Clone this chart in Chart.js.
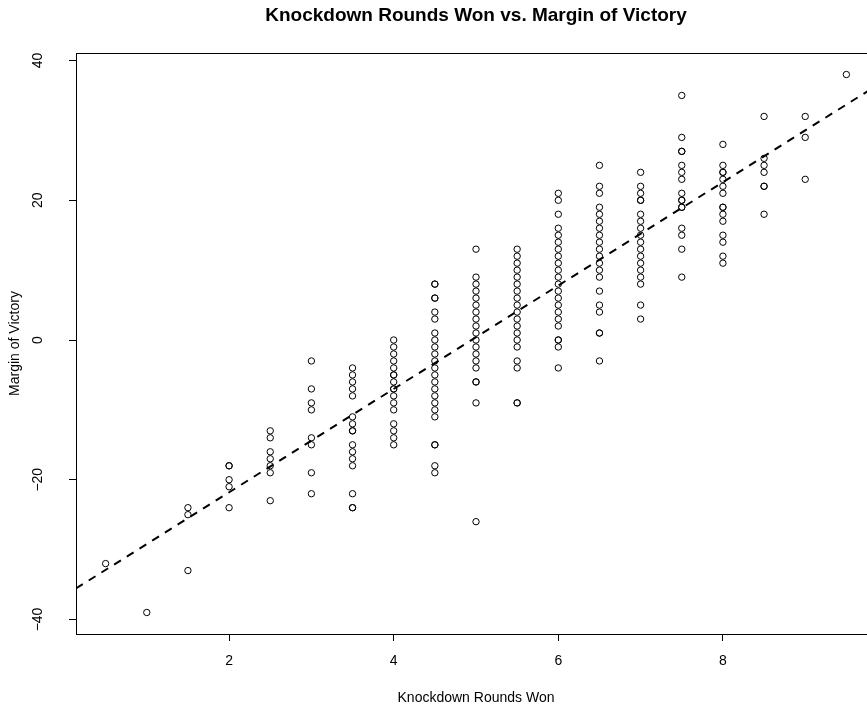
<!DOCTYPE html>
<html>
<head>
<meta charset="utf-8">
<title>Knockdown Rounds Won vs. Margin of Victory</title>
<script src="https://cdn.jsdelivr.net/npm/chart.js@4.4.1/dist/chart.umd.min.js"></script>
<style>
    html, body { margin: 0; padding: 0; background: #fff; overflow: hidden; }
</style>
</head>
<body>
<canvas id="grafico" width="952" height="713"></canvas>
<script>
// Rounds won by knockdown (x) and the margins of victory seen at each one (y)
const rodadas = [0.5, 1, 1.5, 2, 2.5, 3, 3.5, 4, 4.5, 5, 5.5, 6, 6.5, 7, 7.5, 8, 8.5, 9, 9.5];
const margens = [
    [-32],
    [-39],
    [-24, -25, -33],
    [-18, -18, -20, -21, -24],
    [-13, -14, -16, -17, -18, -19, -23],
    [-3, -7, -9, -10, -14, -15, -19, -22],
    [-4, -5, -6, -7, -8, -11, -12, -13, -13, -15, -16, -17, -18, -22, -24, -24],
    [0, -1, -2, -3, -4, -5, -5, -6, -7, -7, -8, -9, -10, -12, -13, -14, -15],
    [8, 8, 6, 6, 4, 3, 1, 0, -1, -2, -3, -4, -5, -6, -7, -8, -9, -10, -11, -15, -15, -18, -19],
    [13, 9, 8, 7, 6, 5, 4, 3, 2, 1, 0, -1, -2, -3, -4, -6, -6, -9, -26],
    [13, 12, 11, 10, 9, 8, 7, 6, 5, 4, 3, 2, 1, 0, -1, -3, -4, -9, -9],
    [21, 20, 18, 16, 15, 14, 13, 12, 11, 10, 9, 8, 7, 6, 5, 4, 3, 2, 0, 0, -1, -4],
    [25, 22, 21, 19, 18, 17, 16, 15, 14, 13, 12, 11, 10, 9, 7, 5, 4, 1, 1, -3],
    [24, 22, 21, 20, 20, 18, 17, 16, 15, 14, 13, 12, 11, 10, 9, 8, 5, 3],
    [35, 29, 27, 27, 25, 24, 23, 21, 20, 20, 19, 19, 16, 15, 13, 9],
    [28, 25, 24, 24, 23, 22, 21, 19, 19, 18, 17, 15, 14, 12, 11],
    [32, 26, 25, 24, 22, 22, 18],
    [32, 29, 23],
    [38]
];

// fitted line
const intercepto = -36.6;
const inclinacao = 7.40;

// axis ranges and ticks
const limitesX = [0.14, 9.86];
const limitesY = [-42.08, 41.08];
const ticksX = [2, 4, 6, 8];
const ticksY = [-40, -20, 0, 20, 40];

const titulo = 'Knockdown Rounds Won vs. Margin of Victory';
const tituloX = 'Knockdown Rounds Won';
const tituloY = 'Margin of Victory';

const fonte = '"Liberation Sans", Arial, Helvetica, sans-serif';
Chart.defaults.font.family = fonte;
Chart.defaults.color = '#000';

const pontos = rodadas.flatMap((r, i) => margens[i].map(m => ({ x: r, y: m })));
const linha = limitesX.map(x => ({ x: x, y: intercepto + inclinacao * x }));

// box around the plot + rotated y tick labels (R style)
const moldura = {
    id: 'moldura',
    afterDraw(chart) {
        const { ctx, chartArea: a } = chart;
        ctx.save();
        ctx.strokeStyle = '#000';
        ctx.lineWidth = 1;
        ctx.strokeRect(Math.round(a.left) + 0.5, Math.round(a.top) + 0.5,
            Math.round(a.right - a.left), Math.round(a.bottom - a.top));

        const sy = chart.scales.y;
        ctx.fillStyle = '#000';
        ctx.font = '14px ' + fonte;
        ctx.textAlign = 'center';
        ctx.textBaseline = 'middle';
        sy.ticks.forEach(t => {
            const py = sy.getPixelForValue(t.value);
            ctx.save();
            ctx.translate(sy.right - 38, py);
            ctx.rotate(-Math.PI / 2);
            ctx.fillText(String(t.value).replace('-', '\u2212'), 0, 0);
            ctx.restore();
        });
        ctx.restore();
    }
};

const ctx = document.getElementById('grafico');

new Chart(ctx.getContext('2d'), {
    type: 'scatter',
    data: {
        datasets: [
            {
                data: pontos,
                order: 1,
                pointStyle: 'circle',
                radius: 3.2,
                borderColor: '#000',
                borderWidth: 1,
                backgroundColor: 'rgba(0,0,0,0)'
            },
            {
                type: 'line',
                data: linha,
                order: 0,
                borderColor: '#000',
                borderWidth: 2,
                borderDash: [8, 7],
                pointRadius: 0,
                fill: false
            }
        ]
    },
    options: {
        responsive: false,
        animation: false,
        events: [],
        layout: { padding: { left: 0, right: 76, top: 0, bottom: 0 } },
        plugins: {
            legend: { display: false },
            tooltip: { enabled: false },
            title: {
                display: true,
                fullSize: false,
                text: titulo,
                color: '#000',
                font: { size: 19, weight: 'bold' },
                padding: { top: 4.6, bottom: 25.6 }
            }
        },
        scales: {
            x: {
                type: 'linear',
                min: limitesX[0],
                max: limitesX[1],
                afterBuildTicks: ax => { ax.ticks = ticksX.map(v => ({ value: v })); },
                afterFit: ax => { ax.height = 79; },
                border: { display: false },
                grid: { drawOnChartArea: false, drawTicks: true, tickLength: 7, color: '#000', lineWidth: 1 },
                ticks: { font: { size: 14 }, padding: 12, maxRotation: 0, color: '#000' },
                title: { display: true, text: tituloX, font: { size: 14 }, padding: { top: 0, bottom: 6.6 } }
            },
            y: {
                type: 'linear',
                min: limitesY[0],
                max: limitesY[1],
                afterBuildTicks: ax => { ax.ticks = ticksY.map(v => ({ value: v })); },
                afterFit: ax => { ax.width = 76; },
                border: { display: false },
                grid: { drawOnChartArea: false, drawTicks: true, tickLength: 7, color: '#000', lineWidth: 1 },
                ticks: { display: false },
                title: { display: true, text: tituloY, font: { size: 14 }, padding: { top: 6.6, bottom: 0 } }
            }
        }
    },
    plugins: [moldura]
});
</script>
</body>
</html>
